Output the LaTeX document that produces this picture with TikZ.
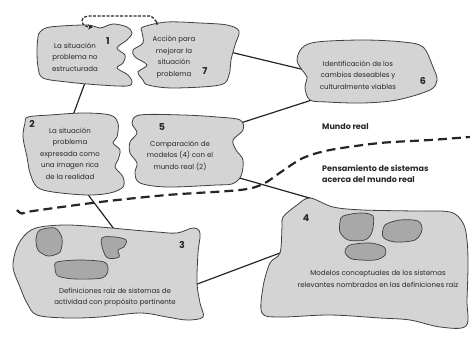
\documentclass[tikz,border=0pt]{standalone}
\usepackage{fontspec}
\setmainfont{Poppins}
\usetikzlibrary{arrows.meta}
\tikzset{
    every node/.style={font=\fontsize{7}{11.5}\selectfont, align=center,
    	inner sep=0pt, text=black!85}
}
\tikzset{
    blob/.style={fill=black!17, draw=black!75, line width=.8pt},
    spot/.style={fill=black!34, draw=black!75, line width=.7pt},
    num/.style={font=\fontsize{9.5}{9.5}\selectfont\bfseries},
    tag/.style={font=\fontsize{8}{11.5}\selectfont\bfseries, align=left, anchor=west},
    link/.style={line width=1.2pt, black!85}
}
\pgfdeclarelayer{background}
\pgfsetlayers{background,main}

\begin{document}
\begin{tikzpicture}[x=1pt, y=-1pt]
  \useasboundingbox (0,0) rectangle (470,339);

  \draw[blob] plot[smooth cycle, tension=.55] coordinates {(40,32) (50,27) (87,25) (100,28) (113,24) (127,27) (132,33) (127,40) (117,48) (125,55) (123,63) (117,68) (128,75) (132,82) (127,86) (100,85) (67,82) (43,78) (38,67) (37,50) (38,37)};
  \draw[blob] plot[smooth cycle, tension=.55] coordinates {(143,27) (167,22) (200,23) (227,25) (239,31) (235,45) (231,60) (229,75) (220,85) (173,88) (148,85) (143,80) (138,72) (147,65) (135,57) (133,50) (143,43) (142,32)};
  \draw[blob] plot[smooth cycle, tension=.55] coordinates {(302,48) (317,42) (363,40) (403,42) (423,47) (433,67) (437,80) (430,90) (397,100) (363,103) (327,102) (310,100) (305,88) (307,77) (302,70) (297,60)};
  \draw[blob] plot[smooth cycle, tension=.55] coordinates {(25,123) (28,117) (50,115) (83,113) (110,115) (118,123) (117,137) (113,143) (120,150) (118,160) (115,167) (123,177) (123,187) (110,193) (87,195) (53,192) (37,187) (30,173) (27,157) (23,137)};
  \draw[blob] plot[smooth cycle, tension=.55] coordinates {(132,123) (140,115) (183,115) (217,117) (240,120) (243,130) (233,140) (236,150) (243,160) (241,176) (232,184) (217,185) (167,187) (140,183) (135,173) (137,163) (130,153) (130,142) (137,133)};
  \draw[blob] plot[smooth cycle, tension=.55] coordinates {(27,233) (40,227) (67,225) (100,227) (133,230) (157,232) (177,233) (193,228) (200,233) (198,253) (197,283) (200,303) (203,317) (187,320) (167,317) (140,313) (100,317) (67,318) (37,315) (27,303) (20,287) (13,267) (17,247)};
  \draw[blob] plot[smooth cycle, tension=.55] coordinates {(310,198) (333,207) (363,210) (413,211) (450,212) (463,223) (467,240) (468,265) (467,300) (466,326) (440,327) (410,320) (380,318) (330,315) (280,317) (262,313) (263,287) (270,263) (280,253) (282,227) (283,217) (297,205)};

  \draw[spot] plot[smooth cycle] coordinates {(40,230) (55,228) (62,238) (60,252) (48,256) (38,250) (36,238)};
  \draw[spot] plot[smooth cycle, tension=.6] coordinates {(102,238) (115,237) (126,240) (124,247) (118,250) (119,257) (108,258) (103,250)};
  \draw[spot] plot[smooth cycle] coordinates {(57,262) (80,260) (104,262) (108,270) (102,278) (75,279) (58,276) (55,268)};
  \draw[spot] plot[smooth cycle] coordinates {(343,216) (360,213) (373,216) (372,232) (365,240) (348,240) (340,232) (340,222)};
  \draw[spot] plot[smooth cycle] coordinates {(385,225) (400,220) (418,221) (422,230) (415,240) (395,242) (383,237)};
  \draw[spot] plot[smooth cycle] coordinates {(350,245) (370,243) (384,247) (385,255) (375,260) (352,259) (345,252)};

  \node (t1) at (75,57) {La situación\\problema no\\estructurada};
  \node (n1) [num] at (108,41) {1};
  \node (t7) at (174,57) {Acción para\\mejorar la\\situación\\problema};
  \node (n7) [num] at (205,71) {7};
  \node (t6) at (358,75) {Identificación de los\\cambios deseables y\\culturalmente viables};
  \node (n6) [num] at (423,81) {6};
  \node (t2) at (70,153.5) {La situación\\problema\\expresada como\\una imagen rica\\de la realidad};
  \node (n2) [num] at (32,124) {2};
  \node (t5) at (180,155.5) {Comparación de\\modelos (4) con el\\mundo real (2)};
  \node (n5) [num] at (162,127) {5};
  \node (t3) at (115,297) {Definiciones raiz de sistemas de\\actividad con propósito pertinente};
  \node (n3) [num] at (182,245) {3};
  \node (t4) at (378,279) {Modelos conceptuales de los sistemas\\relevantes nombrados en las definiciones raiz};
  \node (n4) [num] at (306,218) {4};

  \node (real) [tag] at (322,127) {Mundo real};
  \node (sist) [tag] at (322,174) {Pensamiento de sistemas\\acerca del mundo real};

  \coordinate (a1) at (86,80);
  \coordinate (a2) at (72,118);
  \coordinate (b7) at (228,51.5);
  \coordinate (b6) at (310,71.2);
  \coordinate (c6) at (315,99);
  \coordinate (c5) at (236,124.5);
  \coordinate (d2) at (86,192);
  \coordinate (d3) at (114,229);
  \coordinate (e5) at (236,177);
  \coordinate (e4) at (313,199);
  \coordinate (f3) at (196,284.5);
  \coordinate (f4) at (284,251.5);
  \begin{pgfonlayer}{background}
    \draw[link] (a1) -- (a2);
    \draw[link] (b7) -- (b6);
    \draw[link] (c6) -- (c5);
    \draw[link] (d2) -- (d3);
    \draw[link] (e5) -- (e4);
    \draw[link] (f3) -- (f4);
  \end{pgfonlayer}

  \coordinate (back7) at (157,25);
  \coordinate (back1) at (93,27);
  \draw[line width=1.2pt, dash pattern=on 3pt off 1.5pt, black!85,
    -{Stealth[length=5pt, width=5pt]}] (back7) -- (157,21)
    to[out=-90, in=0] (150,16) -- (90,16) to[out=180, in=90] (82,21)
    to[out=-90, in=180] (back1);

  \draw[line width=2.2pt, dash pattern=on 9pt off 5pt, black!85]
    plot[smooth] coordinates {(17,210) (22,213.5) (33,211) (100,202) (167,195) (240,190) (263,184) (281,172) (303,158) (330,150) (380,143) (430,140) (470,137)};
\end{tikzpicture}
\end{document}
